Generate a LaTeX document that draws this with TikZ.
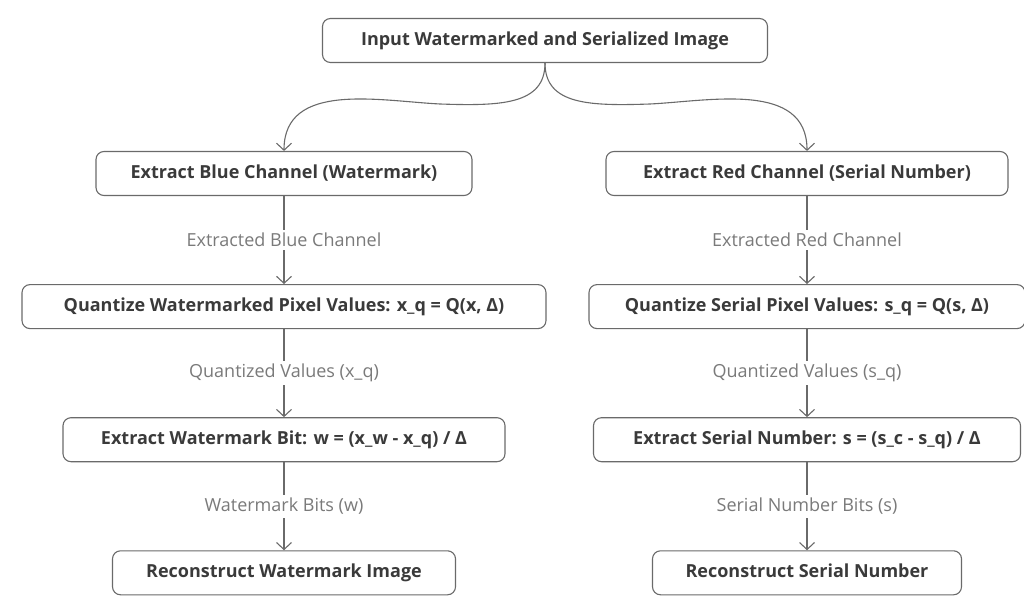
\documentclass[tikz,border=0pt]{standalone}
\usepackage{fontspec}
\setmainfont{Open Sans}
\usetikzlibrary{arrows.meta, positioning}
\definecolor{boxline}{HTML}{6A6A6A}
\definecolor{boxtext}{HTML}{3A3A3A}
\definecolor{edgetext}{HTML}{7A7A7A}

\begin{document}
\begin{tikzpicture}[
    x=1pt, y=-1pt,
    node distance=88pt,
    every node/.style={font=\fontsize{18}{21}\selectfont},
    box/.style={rectangle, draw=boxline, line width=1.1pt, rounded corners=8pt, minimum height=44pt, inner sep=0pt, text height=13pt, text depth=4pt, align=center, text=boxtext, font=\fontsize{18}{21}\selectfont\bfseries},
    lbl/.style={fill=white, text=edgetext, inner sep=3pt},
    flow/.style={draw=boxline, line width=1.1pt, -{Straight Barb[length=7pt, width=15pt]}}
]
\useasboundingbox (0,0) rectangle (1024,605);

\node[box, minimum width=445pt] (in) at (545,40.5) {Input Watermarked and Serialized Image};

\node[box, minimum width=376pt] (blue) at (284,173.5) {Extract Blue Channel (Watermark)};
\node[box, minimum width=524pt, below=of blue] (qblue) {Quantize Watermarked Pixel Values: x\_q = Q(x, Δ)};
\node[box, minimum width=442pt, below=of qblue] (wbit) {Extract Watermark Bit: w = (x\_w - x\_q) / Δ};
\node[box, minimum width=343pt, below=of wbit] (wimg) {Reconstruct Watermark Image};

\node[box, minimum width=402pt] (red) at (807,173.5) {Extract Red Channel (Serial Number)};
\node[box, minimum width=436pt, below=of red] (qred) {Quantize Serial Pixel Values: s\_q = Q(s, Δ)};
\node[box, minimum width=427pt, below=of qred] (sbit) {Extract Serial Number: s = (s\_c - s\_q) / Δ};
\node[box, minimum width=309pt, below=of sbit] (snum) {Reconstruct Serial Number};

\coordinate (bendL) at (440,104);
\coordinate (bendR) at (650,104);
\draw[flow] (in.south) .. controls +(0,42) and +(60,2) .. (bendL)
    .. controls +(-60,-3) and +(0,-70) .. (blue.north);
\draw[flow] (in.south) .. controls +(0,42) and +(-60,2) .. (bendR)
    .. controls +(60,-3) and +(0,-70) .. (red.north);

\draw[flow] (blue) -- node[lbl] {Extracted Blue Channel} (qblue);
\draw[flow] (qblue) -- node[lbl] {Quantized Values (x\_q)} (wbit);
\draw[flow] (wbit) -- node[lbl] {Watermark Bits (w)} (wimg);

\draw[flow] (red) -- node[lbl] {Extracted Red Channel} (qred);
\draw[flow] (qred) -- node[lbl] {Quantized Values (s\_q)} (sbit);
\draw[flow] (sbit) -- node[lbl] {Serial Number Bits (s)} (snum);
\end{tikzpicture}
\end{document}
